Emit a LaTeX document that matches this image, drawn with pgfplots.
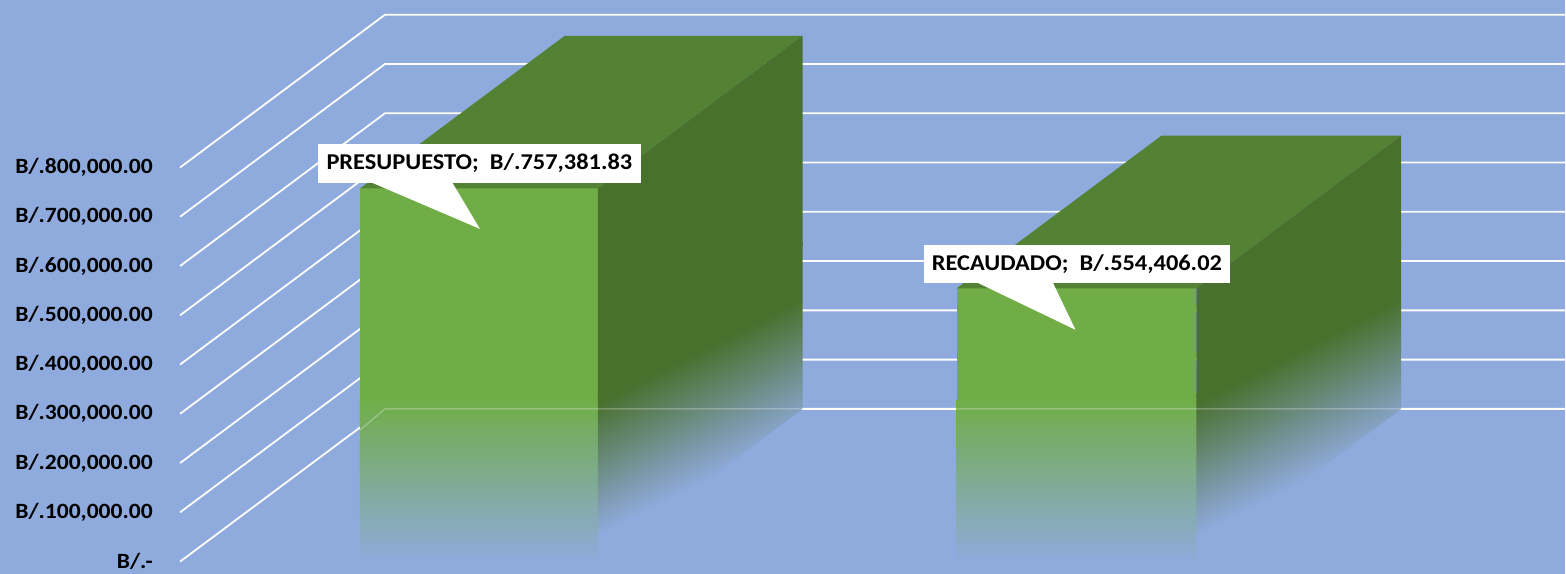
\documentclass[border=0pt]{standalone}
\usepackage{pgfplots}
\pgfplotsset{compat=1.18}
\usepackage{fontspec}
\setmainfont{Carlito}[FakeStretch=1.08]
\definecolor{bg}{HTML}{8FAADC}
\definecolor{gfront}{HTML}{70AD47}
\definecolor{gtop}{HTML}{548235}
\definecolor{gside}{HTML}{4A702E}
\pgfdeclareverticalshading{sidefade}{100bp}{color(0bp)=(bg); color(37bp)=(bg); color(58bp)=(gside); color(100bp)=(gside)}
\begin{document}
\begin{tikzpicture}
\begin{axis}[
  width=783pt, height=287pt, scale only axis,
  xmin=0, xmax=1566, ymin=-24341, ymax=1139961,
  axis line style={draw=none},
  axis background/.style={fill=bg},
  major tick length=0pt,
  xtick=\empty,
  scaled y ticks=false,
  ytick={0,100000,200000,300000,400000,500000,600000,700000,800000},
  yticklabels={{B/.-\hspace{5pt}},{B/.100,000.00},{B/.200,000.00},{B/.300,000.00},{B/.400,000.00},{B/.500,000.00},{B/.600,000.00},{B/.700,000.00},{B/.800,000.00}},
  yticklabel style={anchor=east, inner sep=0pt, xshift=76.5pt, font=\bfseries\fontsize{10.9}{12}\selectfont, text=black},
  clip=false,
]
% gridlines (front diagonal to back wall, then horizontal)
\pgfplotsset{g3/.style={white, line width=0.9pt}}
\addplot[g3] coordinates {(180,0) (385,310000) (1566,310000)};
\addplot[g3] coordinates {(180,100000) (385,410000) (1566,410000)};
\addplot[g3] coordinates {(180,200000) (385,510000) (1566,510000)};
\addplot[g3] coordinates {(180,300000) (385,610000) (1566,610000)};
\addplot[g3] coordinates {(180,400000) (385,710000) (1566,710000)};
\addplot[g3] coordinates {(180,500000) (385,810000) (1566,810000)};
\addplot[g3] coordinates {(180,600000) (385,910000) (1566,910000)};
\addplot[g3] coordinates {(180,700000) (385,1010000) (1566,1010000)};
\addplot[g3] coordinates {(180,800000) (385,1110000) (1566,1110000)};
% ---- bar 1: PRESUPUESTO 757381.83
\addplot[draw=none, top color=gfront, bottom color=bg] coordinates {(360,0) (598,0) (598,330000) (360,330000)};
\addplot[draw=none, fill=gfront] coordinates {(360,326000) (598,326000) (598,757381.83) (360,757381.83)};
\addplot[draw=none, fill=gtop] coordinates {(360,757381.83) (598,757381.83) (803,1067381.83) (565,1067381.83)};
\addplot[draw=none, shade, shading=sidefade, shading angle=27] coordinates {(598,0) (803,310000) (803,650000) (598,340000)};
\addplot[draw=none, fill=gside] coordinates {(598,757381.83) (803,1067381.83) (803,640000) (598,330000)};
% ---- bar 2: RECAUDADO 554406.02
\addplot[draw=none, top color=gfront, bottom color=bg] coordinates {(957,0) (1197,0) (1197,330000) (957,330000)};
\addplot[draw=none, fill=gfront] coordinates {(957,326000) (1197,326000) (1197,554406.02) (957,554406.02)};
\addplot[draw=none, fill=gtop] coordinates {(957,554406.02) (1197,554406.02) (1402,864406.02) (1162,864406.02)};
\addplot[draw=none, shade, shading=sidefade, shading angle=27] coordinates {(1197,0) (1402,310000) (1402,650000) (1197,340000)};
\addplot[draw=none, fill=gside] coordinates {(1197,554406.02) (1402,864406.02) (1402,640000) (1197,330000)};
% faint floor gridline seen through the faded bars
\addplot[white, line width=0.8pt, opacity=0.25] coordinates {(360,267000) (385,310000) (1402,310000)};
% ---- callouts
\fill[white] (axis cs:318,847871) rectangle (axis cs:641,768764);
\fill[white] (axis cs:370,770792) -- (axis cs:452,770792) -- (axis cs:480,675457) -- cycle;
\node[font=\bfseries\fontsize{11.3}{13}\selectfont, inner sep=0pt] at (axis cs:479.5,808325) {PRESUPUESTO;\ \ B/.757,381.83};
\fill[white] (axis cs:924,643003) rectangle (axis cs:1231,565924);
\fill[white] (axis cs:976,567952) -- (axis cs:1053,567952) -- (axis cs:1076,470589) -- cycle;
\node[font=\bfseries\fontsize{11.3}{13}\selectfont, inner sep=0pt] at (axis cs:1077.5,604463) {RECAUDADO;\ \ B/.554,406.02};
\end{axis}
\end{tikzpicture}
\end{document}
